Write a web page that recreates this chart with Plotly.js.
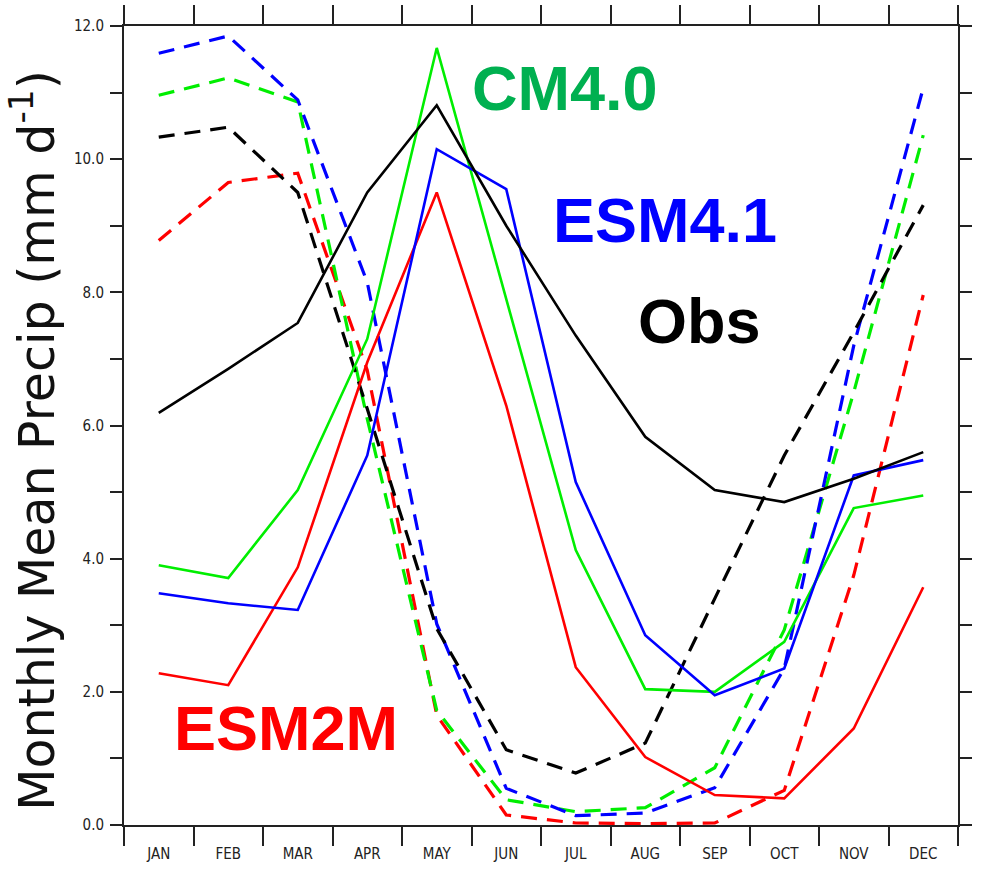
<!DOCTYPE html>
<html>
<head>
<meta charset="utf-8">
<script src="https://cdn.plot.ly/plotly-3.0.1.min.js"></script>
<style>
  html, body { margin: 0; padding: 0; background: #ffffff; }
  #chart { width: 986px; height: 869px; }
</style>
</head>
<body>
<div id="chart"></div>
<script>
// ---- data (mm/day), Jan..Dec ----
const months = ['JAN','FEB','MAR','APR','MAY','JUN','JUL','AUG','SEP','OCT','NOV','DEC'];

const obsSolid   = [6.19, 6.85, 7.54, 9.50, 10.81, 9.00, 7.35, 5.83, 5.03, 4.85, 5.20, 5.60];
const cm4Solid   = [3.90, 3.71, 5.03, 7.30, 11.67, 7.90, 4.13, 2.04, 2.00, 2.75, 4.76, 4.95];
const esm41Solid = [3.48, 3.33, 3.23, 5.55, 10.15, 9.55, 5.15, 2.85, 1.95, 2.35, 5.25, 5.48];
const esm2mSolid = [2.28, 2.10, 3.87, 6.95, 9.50, 6.30, 2.37, 1.02, 0.45, 0.40, 1.45, 3.57];

const obsDash    = [10.33, 10.48, 9.50, 6.25, 2.95, 1.13, 0.78, 1.23, 3.40, 5.55, 7.40, 9.31];
const cm4Dash    = [10.96, 11.22, 10.86, 6.10, 1.72, 0.38, 0.20, 0.26, 0.86, 2.93, 6.50, 10.36];
const esm41Dash  = [11.59, 11.85, 10.89, 8.15, 3.02, 0.55, 0.14, 0.18, 0.56, 2.35, 7.20, 11.07];
const esm2mDash  = [8.78, 9.65, 9.79, 6.83, 1.65, 0.15, 0.03, 0.02, 0.03, 0.52, 3.75, 7.96];

const yTickVals  = [0, 2, 4, 6, 8, 10, 12];
const yTickText  = ['0.0', '2.0', '4.0', '6.0', '8.0', '10.0', '12.0'];

const labels = [
  {text: 'CM4.0',  color: '#00b050', x: 5.84, y: 11.07},
  {text: 'ESM4.1', color: '#0000ff', x: 7.28, y: 9.08},
  {text: 'Obs',    color: '#000000', x: 7.78, y: 7.57},
  {text: 'ESM2M',  color: '#ff0000', x: 1.83, y: 1.45}
];

// ---- build ----
const xIdx = months.map((m, i) => i);
const dashPat = '16px,10px';
function tr(y, color, dashed) {
  return {
    type: 'scatter', mode: 'lines', x: xIdx, y: y,
    line: {color: color, width: dashed ? 3.2 : 2.6, dash: dashed ? dashPat : 'solid'},
    hoverinfo: 'skip', showlegend: false
  };
}
const data = [
  tr(esm2mDash, '#ff0000', true),
  tr(cm4Dash, '#00ee00', true),
  tr(esm41Dash, '#0000ff', true),
  tr(obsDash, '#000000', true),
  tr(esm2mSolid, '#ff0000', false),
  tr(cm4Solid, '#00ee00', false),
  tr(esm41Solid, '#0000ff', false),
  tr(obsSolid, '#000000', false)
];

const boundaries = [];
for (let i = 0; i <= months.length; i++) boundaries.push(i - 0.5);

const annotations = labels.map(l => ({
  text: l.text, x: l.x, y: l.y, xref: 'x', yref: 'y',
  showarrow: false, xanchor: 'center', yanchor: 'middle',
  font: {family: 'Liberation Sans, Arial, sans-serif', size: 63, color: l.color, weight: 'bold'}
}));
annotations.push({
  text: 'Monthly Mean Precip (mm d<sup>-1</sup>)',
  xref: 'paper', yref: 'paper', x: -0.108, y: 0.482,
  xanchor: 'center', yanchor: 'middle', textangle: -90, showarrow: false,
  font: {family: 'DejaVu Sans, sans-serif', size: 49, color: '#111111'}
});

const tickFont = {family: 'DejaVu Sans Condensed, Liberation Sans Narrow, Arial Narrow, sans-serif', size: 15, color: '#222222'};

const layout = {
  width: 986, height: 869,
  margin: {l: 124, r: 28, t: 26, b: 44, pad: 0},
  paper_bgcolor: '#ffffff', plot_bgcolor: '#ffffff',
  showlegend: false,
  xaxis: {
    range: [-0.5, 11.5], tickmode: 'array', tickvals: xIdx, ticktext: months,
    ticks: '', showgrid: false, zeroline: false,
    showline: true, linecolor: '#222222', linewidth: 2, mirror: 'ticks',
    tickfont: tickFont, ticklabelstandoff: 14,
    minor: {tickmode: 'array', tickvals: boundaries, ticks: 'outside', ticklen: 19, tickwidth: 2, tickcolor: '#222222', showgrid: false}
  },
  yaxis: {
    range: [0, 12], tickmode: 'array', tickvals: yTickVals, ticktext: yTickText,
    ticks: 'outside', ticklen: 12, tickwidth: 2, tickcolor: '#222222',
    showgrid: false, zeroline: false,
    showline: true, linecolor: '#222222', linewidth: 2, mirror: 'ticks',
    tickfont: tickFont, ticklabelstandoff: 3,
    minor: {tickmode: 'linear', tick0: 0, dtick: 1, ticks: 'outside', ticklen: 12, tickwidth: 2, tickcolor: '#222222', showgrid: false}
  },
  annotations: annotations
};

Plotly.newPlot('chart', data, layout, {displayModeBar: false, staticPlot: true});
</script>
</body>
</html>
